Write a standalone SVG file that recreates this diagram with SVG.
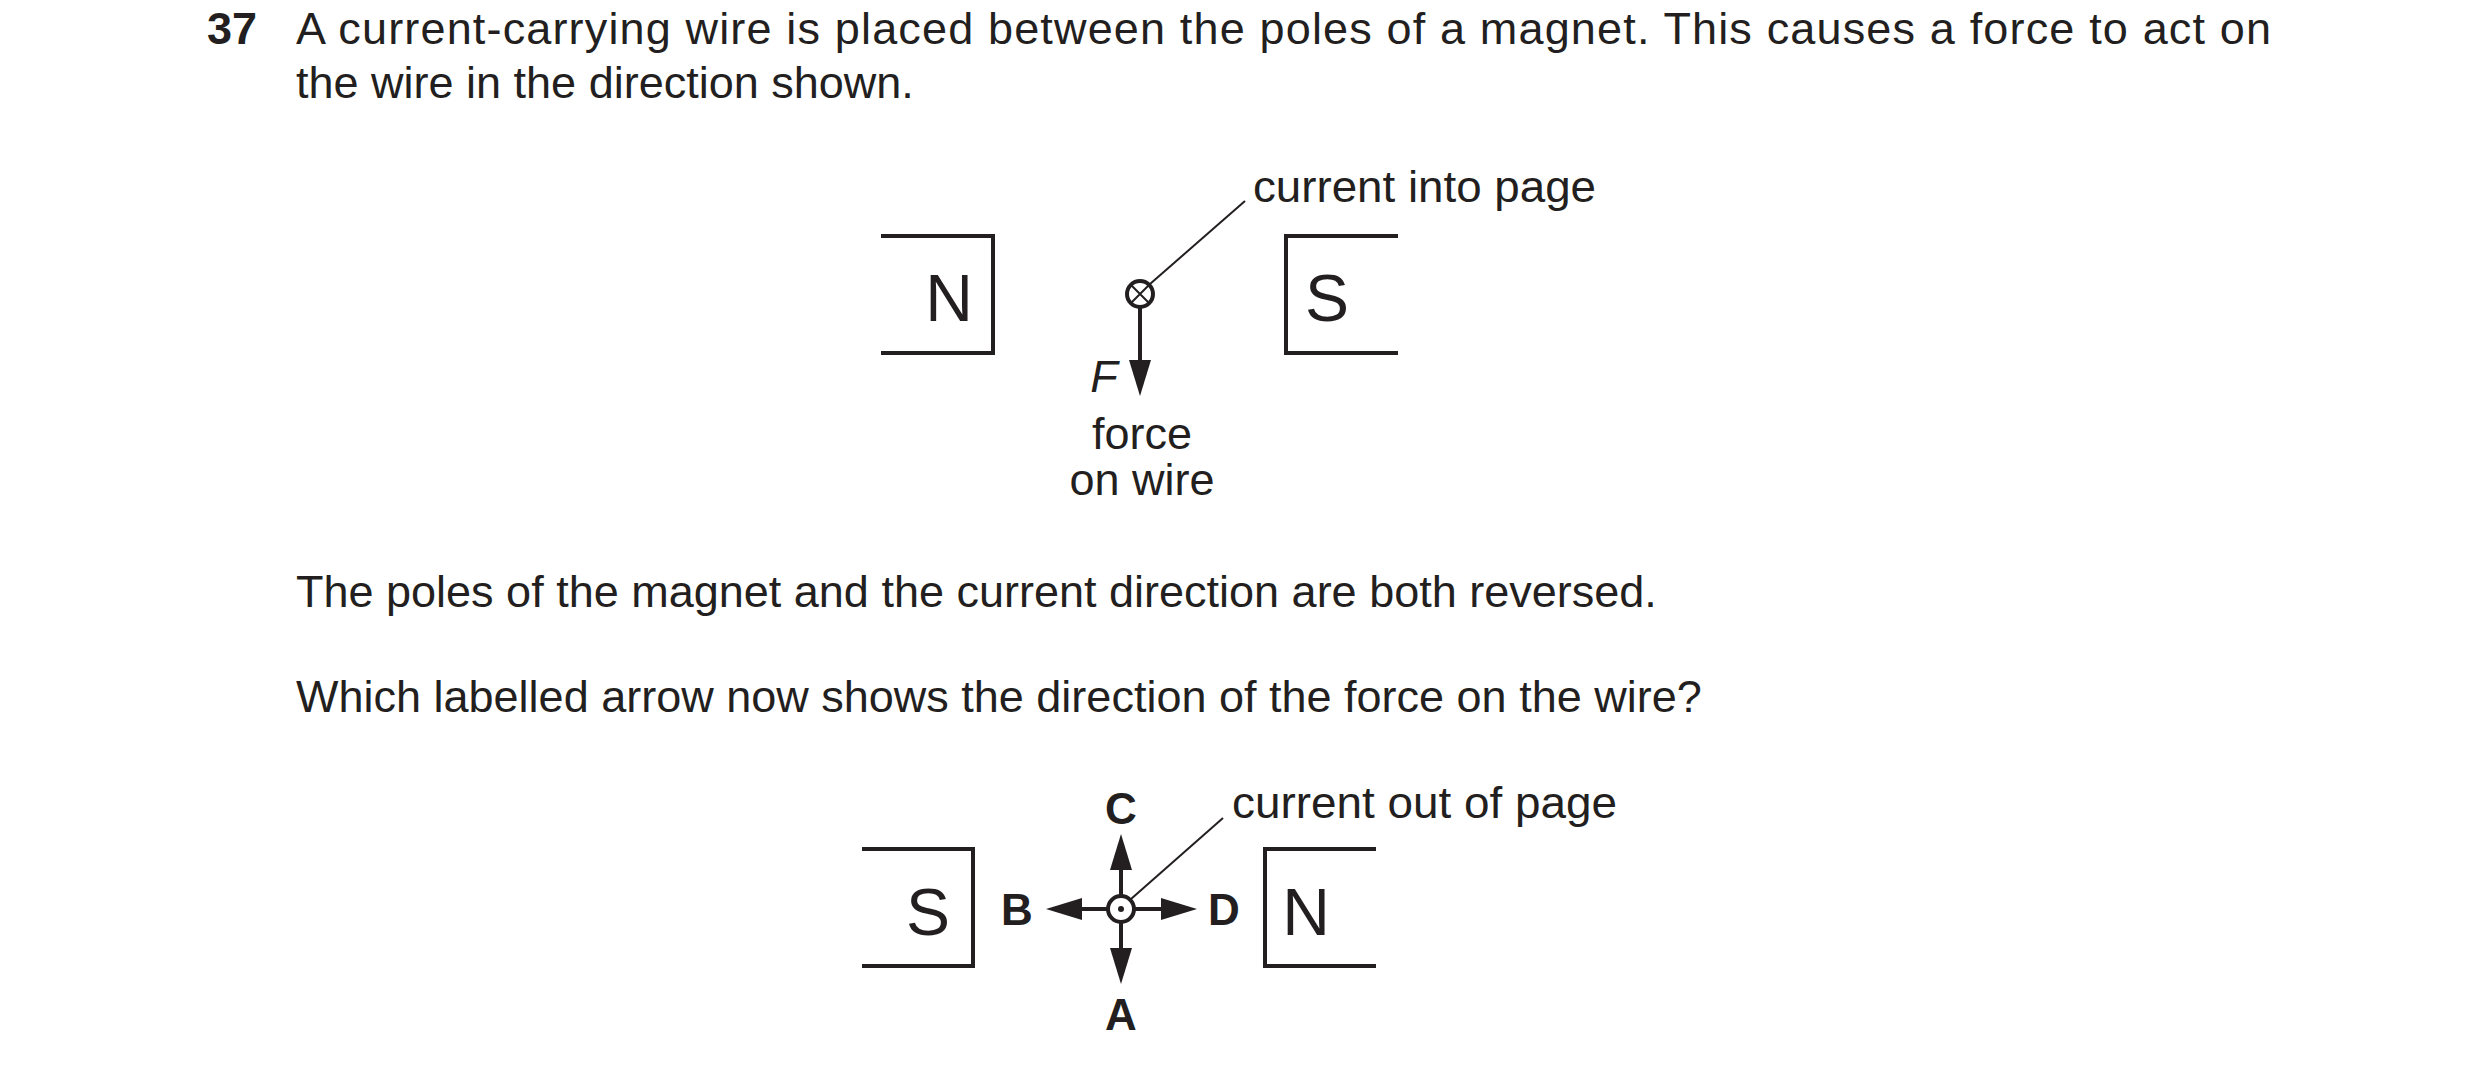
<svg xmlns="http://www.w3.org/2000/svg" width="2480" height="1068" viewBox="0 0 2480 1068">
<style>
text{font-family:"Liberation Sans",Arial,sans-serif;fill:#231f20}
.t{font-size:45px}
.big{font-size:66px;text-anchor:middle}
.lbl{font-size:44px;font-weight:bold;text-anchor:middle}
.box{fill:none;stroke:#231f20;stroke-width:4}
.ln{stroke:#231f20;stroke-width:4;fill:none}
.thin{stroke:#231f20;stroke-width:2;fill:none}
.head{fill:#231f20}
</style>
<g id="question">
<text x="207" y="44" class="t" font-weight="bold">37</text>
<text x="296" y="44" class="t" textLength="1975" lengthAdjust="spacing">A current-carrying wire is placed between the poles of a magnet. This causes a force to act on</text>
<text x="296" y="98" class="t">the wire in the direction shown.</text>
<text x="296" y="607" class="t">The poles of the magnet and the current direction are both reversed.</text>
<text x="296" y="712" class="t">Which labelled arrow now shows the direction of the force on the wire?</text>
</g>
<g id="magnetN1"><path class="box" d="M881 236H993V353H881"/><text x="949" y="321" class="big">N</text></g>
<g id="magnetS1"><path class="box" d="M1398 236H1286V353H1398"/><text x="1327" y="321" class="big">S</text></g>
<g id="wire1"><circle cx="1140" cy="294" r="13" class="ln" stroke-width="3"/><path class="thin" d="M1131 285L1149 303M1149 285L1131 303"/></g>
<g id="label1"><text x="1253" y="202" class="t" font-size="44" textLength="343" lengthAdjust="spacingAndGlyphs">current into page</text>
<text x="1104" y="392" class="t" font-style="italic" text-anchor="middle">F</text>
<text x="1142" y="449" class="t" text-anchor="middle">force</text>
<text x="1142" y="495" class="t" text-anchor="middle">on wire</text></g>
<g id="magnetS2"><path class="box" d="M862 849H973V966H862"/><text x="928" y="935" class="big">S</text></g>
<g id="magnetN2"><path class="box" d="M1376 849H1265V966H1376"/><text x="1306" y="935" class="big">N</text></g>
<g id="wire2"><circle cx="1121" cy="909" r="13" class="ln" stroke-width="3"/><circle cx="1121" cy="909" r="3" fill="#231f20"/></g>
<g id="labels2">
<text x="1232" y="818" class="t" font-size="44" textLength="385" lengthAdjust="spacingAndGlyphs">current out of page</text>
<text x="1121" y="824" class="lbl">C</text>
<text x="1121" y="1030" class="lbl">A</text>
<text x="1017" y="925" class="lbl">B</text>
<text x="1224" y="925" class="lbl">D</text>
</g>
<g id="connectors">
<line class="thin" x1="1150" y1="284" x2="1245" y2="201"/>
<line class="ln" x1="1140" y1="307" x2="1140" y2="365"/>
<path class="head" d="M1129 360L1151 360L1140 396z"/>
<line class="thin" x1="1131" y1="899" x2="1223" y2="818"/>
<line class="ln" x1="1121" y1="896" x2="1121" y2="865"/>
<path class="head" d="M1110 870L1132 870L1121 834z"/>
<line class="ln" x1="1121" y1="922" x2="1121" y2="952"/>
<path class="head" d="M1110 948L1132 948L1121 984z"/>
<line class="ln" x1="1108" y1="909" x2="1078" y2="909"/>
<path class="head" d="M1082 898L1082 920L1046 909z"/>
<line class="ln" x1="1134" y1="909" x2="1165" y2="909"/>
<path class="head" d="M1161 898L1161 920L1197 909z"/>
</g>
</svg>
